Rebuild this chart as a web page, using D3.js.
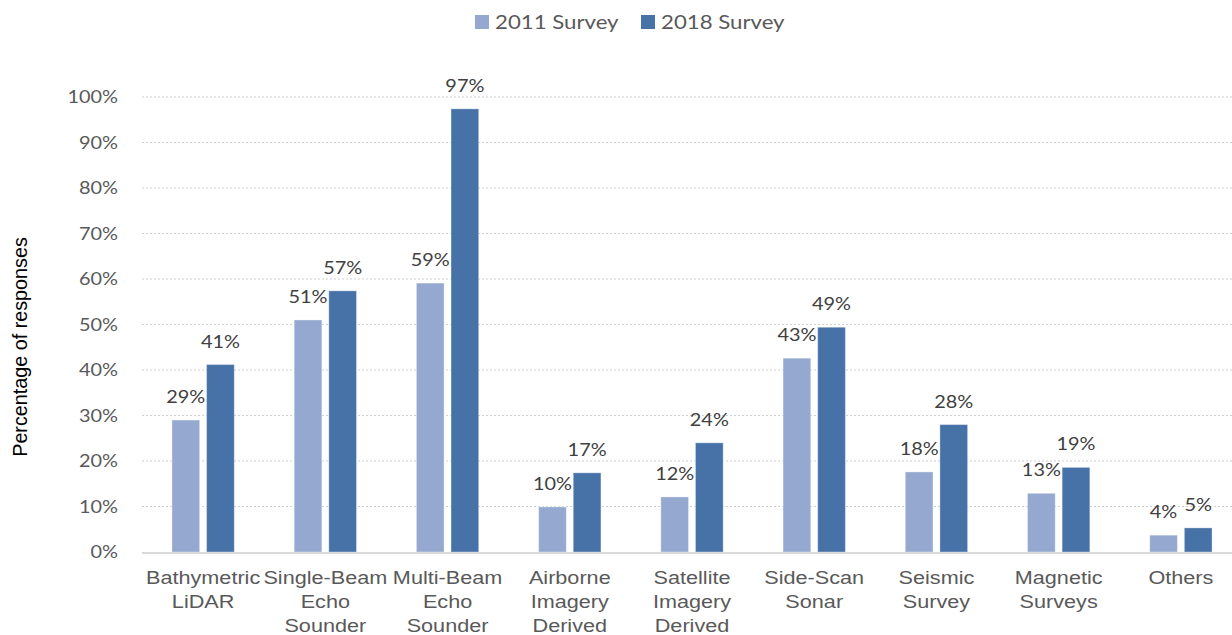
<!DOCTYPE html>
<html>
<head>
<meta charset="utf-8">
<script src="https://cdn.jsdelivr.net/npm/d3@7/dist/d3.min.js"></script>
<style>
  html, body { margin: 0; padding: 0; background: #fff; }
  svg { display: block; }
</style>
</head>
<body>
<svg id="chart" width="1232" height="635"></svg>
<script>
const categories = [
  "Bathymetric\nLiDAR",
  "Single-Beam\nEcho\nSounder",
  "Multi-Beam\nEcho\nSounder",
  "Airborne\nImagery\nDerived",
  "Satellite\nImagery\nDerived",
  "Side-Scan\nSonar",
  "Seismic\nSurvey",
  "Magnetic\nSurveys",
  "Others"
];
const seriesNames = ["2011 Survey", "2018 Survey"];
const values2011 = [29.0, 51.0, 59.1, 9.9, 12.1, 42.6, 17.6, 12.9, 3.7];
const values2018 = [41.2, 57.4, 97.4, 17.4, 24.0, 49.4, 28.0, 18.6, 5.3];
const yTicks = [0, 10, 20, 30, 40, 50, 60, 70, 80, 90, 100];
const yTitle = "Percentage of responses";

const colors = ["#95a9d0", "#4672a8"];
const SX = 1.17; // horizontal stretch of the reference's text

const svg = d3.select("#chart");
const margin = { left: 142, right: -10, top: 97, bottom: 83 };
const W = 1232, H = 635;
const plotRight = W - margin.right;
const plotBottom = H - margin.bottom;

const x = d3.scaleBand().domain(d3.range(categories.length))
  .range([margin.left, plotRight]).paddingInner(0.49).paddingOuter(0.245);
const xs = d3.scaleBand().domain([0, 1]).range([0, x.bandwidth()]).paddingInner(0.2);
const y = d3.scaleLinear().domain([0, 100]).range([plotBottom, margin.top]);

function stretchedText(g, tx, ty, str) {
  return g.append("text")
    .attr("transform", `translate(${tx},${ty}) scale(${SX},1)`)
    .text(str);
}

// gridlines
svg.append("g").selectAll("line").data(yTicks.filter(d => d > 0)).join("line")
  .attr("x1", margin.left).attr("x2", W)
  .attr("y1", d => y(d)).attr("y2", d => y(d))
  .attr("stroke", "#d0d0d0").attr("stroke-width", 1.2)
  .attr("stroke-dasharray", "2,2");

// y tick labels
const yt = svg.append("g").attr("font-family", "Lato, 'Open Sans', sans-serif")
  .attr("font-size", 17).attr("fill", "#595959").attr("text-anchor", "end");
yTicks.forEach(t => {
  stretchedText(yt, 118, y(t) + 6, t + "%");
});

// bars
const series = [values2011, values2018];
const barG = svg.append("g");
series.forEach((vals, si) => {
  barG.selectAll(null).data(vals).join("rect")
    .attr("x", (d, i) => x(i) + xs(si))
    .attr("width", xs.bandwidth())
    .attr("y", d => y(d))
    .attr("height", d => y(0) - y(d))
    .attr("fill", colors[si])
    .attr("stroke", "#ffffff").attr("stroke-opacity", 0.35).attr("stroke-width", 1);
});

// axis line
svg.append("line").attr("x1", margin.left).attr("x2", W)
  .attr("y1", y(0) + 1).attr("y2", y(0) + 1)
  .attr("stroke", "#d9d9d9").attr("stroke-width", 2);

// data labels
const lg = svg.append("g").attr("font-family", "Lato, 'Open Sans', sans-serif")
  .attr("font-size", 17).attr("fill", "#404040").attr("text-anchor", "middle");
series.forEach((vals, si) => {
  vals.forEach((v, i) => {
    stretchedText(lg, x(i) + xs(si) + xs.bandwidth() / 2, y(v) - 17, Math.round(v) + "%");
  });
});

// category labels
const cg = svg.append("g").attr("font-family", "'Liberation Sans', Arial, sans-serif")
  .attr("font-size", 18.5).attr("fill", "#595959").attr("text-anchor", "middle");
categories.forEach((c, i) => {
  c.split("\n").forEach((line, li) => {
    stretchedText(cg, x(i) + x.bandwidth() / 2, 584 + li * 24, line);
  });
});

// y title
svg.append("text")
  .attr("transform", `translate(27,347) rotate(-90) scale(1.04,1.1)`)
  .attr("text-anchor", "middle")
  .attr("font-family", "'Liberation Sans', Arial, sans-serif")
  .attr("font-size", 19).attr("fill", "#000")
  .text(yTitle);

// legend
const leg = svg.append("g").attr("font-family", "Lato, 'Open Sans', sans-serif")
  .attr("font-size", 19).attr("fill", "#595959");
const legX = [475, 641];
seriesNames.forEach((n, i) => {
  leg.append("rect").attr("x", legX[i]).attr("y", 15).attr("width", 14).attr("height", 14)
    .attr("fill", colors[i]);
  stretchedText(leg, legX[i] + 20, 29, n);
});
</script>
</body>
</html>
